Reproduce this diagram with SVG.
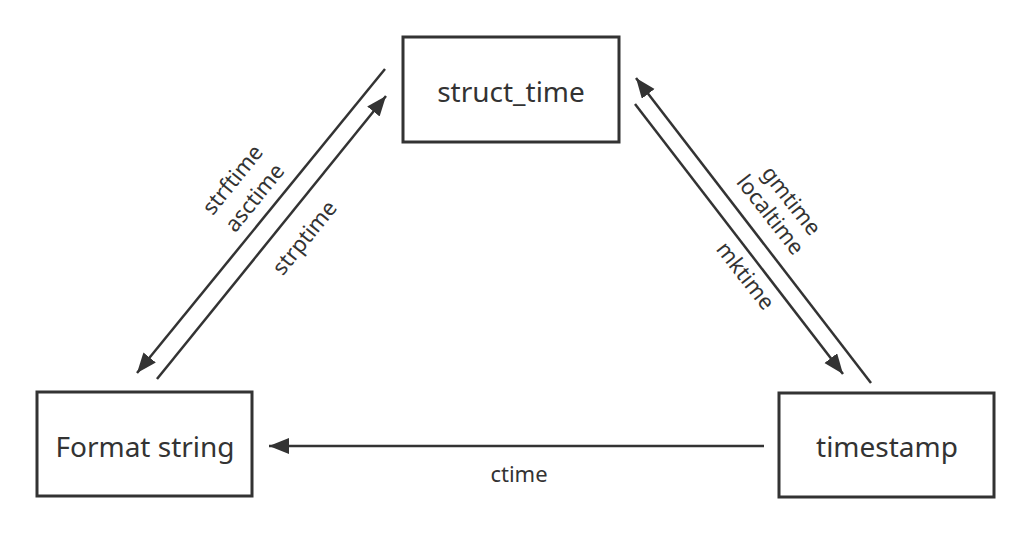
<svg xmlns="http://www.w3.org/2000/svg" width="1031" height="535" viewBox="0 0 1031 535">
<style>
.box{fill:#fff;stroke:#333;stroke-width:3}
.nt{font-family:"Noto Sans","Liberation Sans",sans-serif;font-size:28px;fill:#333;text-anchor:middle}
.lt{font-family:"Noto Sans","Liberation Sans",sans-serif;font-size:22px;fill:#333;text-anchor:middle}
.ln{stroke:#333;stroke-width:2.5;fill:none}
</style>
<defs>
<marker id="ah" markerUnits="userSpaceOnUse" markerWidth="22" markerHeight="18" refX="20" refY="8" orient="auto">
<path d="M0,0 L20,8 L0,16 z" fill="#333"/>
</marker>
</defs>
<rect width="1031" height="535" fill="#fff"/>
<g id="connectors">
<line class="ln" x1="385" y1="69" x2="137" y2="373" marker-end="url(#ah)"/>
<line class="ln" x1="157" y1="379" x2="386" y2="96" marker-end="url(#ah)"/>
<line class="ln" x1="871" y1="383" x2="636" y2="78" marker-end="url(#ah)"/>
<line class="ln" x1="635" y1="104" x2="843" y2="374" marker-end="url(#ah)"/>
<line class="ln" x1="764" y1="446" x2="269" y2="446" marker-end="url(#ah)"/>
<text class="lt" transform="translate(233,180) rotate(-51)" x="0" y="7">strftime</text>
<text class="lt" transform="translate(255,198) rotate(-51)" x="0" y="7">asctime</text>
<text class="lt" transform="translate(305,238) rotate(-51)" x="0" y="7">strptime</text>
<text class="lt" transform="translate(791,201) rotate(52)" x="0" y="7">gmtime</text>
<text class="lt" transform="translate(770,215) rotate(52)" x="0" y="7">localtime</text>
<text class="lt" transform="translate(745,276) rotate(52)" x="0" y="7">mktime</text>
<text class="lt" x="519" y="482">ctime</text>
</g>
<g id="struct_time">
<rect class="box" x="403" y="37" width="216" height="105"/>
<text class="nt" x="511" y="102">struct_time</text>
</g>
<g id="format_string">
<rect class="box" x="37" y="392" width="215" height="104"/>
<text class="nt" x="145" y="457">Format string</text>
</g>
<g id="timestamp">
<rect class="box" x="779" y="393" width="215" height="104"/>
<text class="nt" x="887" y="457">timestamp</text>
</g>
</svg>
